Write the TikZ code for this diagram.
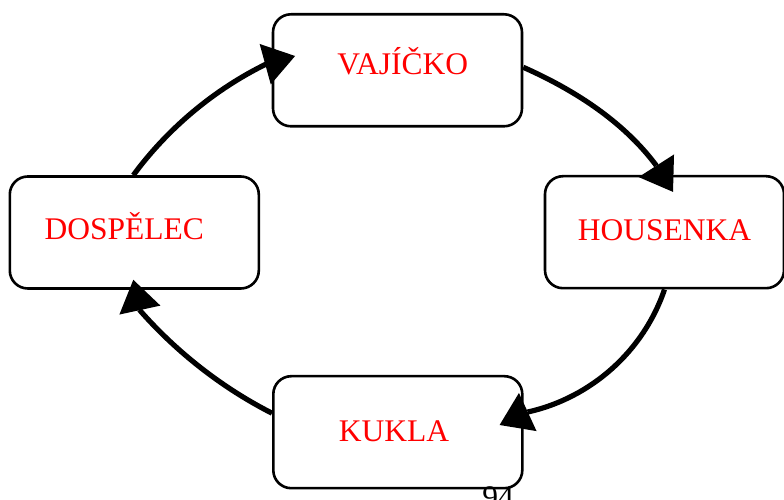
\documentclass[tikz,border=0pt]{standalone}
\usepackage{fontspec}
\setmainfont{Liberation Serif}
\usetikzlibrary{arrows.meta}
\tikzset{
  stage/.style={draw=black, line width=2.6pt, rounded corners=18pt, fill=white,
    minimum width=249pt, minimum height=112pt, inner sep=0pt, text depth=0pt,
    text=red, font=\fontsize{31.5}{36}\selectfont},
  cycle/.style={line width=5.2pt,
    -{Triangle[length=31pt,width=42pt,line width=0pt]}},
  pagenum/.style={font=\fontsize{31.5}{36}\selectfont, text=black, inner sep=0pt}
}
\begin{document}
\begin{tikzpicture}[x=1pt,y=1pt]
\useasboundingbox (0,0) rectangle (784,500);
\node[stage, text height=9.4pt] (vaj) at (397.5,429.7) {\hspace*{10.6pt}VAJÍČKO};
\node[stage, text height=17.6pt, minimum width=239pt] (hous) at (664.5,267.8) {HOUSENKA};
\node[stage, text height=13.6pt] (dosp) at (134.3,267.5) {DOSPĚLEC\hspace*{20pt}};
\node[stage, text height=19pt] (kuk) at (397.8,67.8) {KUKLA\hspace*{7.6pt}};
\node[pagenum, anchor=base] (num) at (498,-8) {94};
\draw[cycle] ([yshift=3pt]vaj.east) .. controls (573.2,410.6) and (622.4,379.4) .. (655.5,335.5) -- ([shift={(8.5,-17)}]hous.north);
\draw[cycle] (hous.south) .. controls (643.4,148.7) and (591.2,102.2) .. (527.8,88) -- ([shift={(-24,7.2)}]kuk.east);
\draw[cycle] ([yshift=19pt]kuk.west) .. controls (222.7,111.9) and (177.3,147.1) .. (140,189.5) -- ([shift={(-1,10)}]dosp.south);
\draw[cycle] ([xshift=-1pt]dosp.north) .. controls (167.6,371.3) and (213.7,410.3) .. (266.7,436.2) -- ([shift={(23.4,14.3)}]vaj.west);
\end{tikzpicture}
\end{document}
